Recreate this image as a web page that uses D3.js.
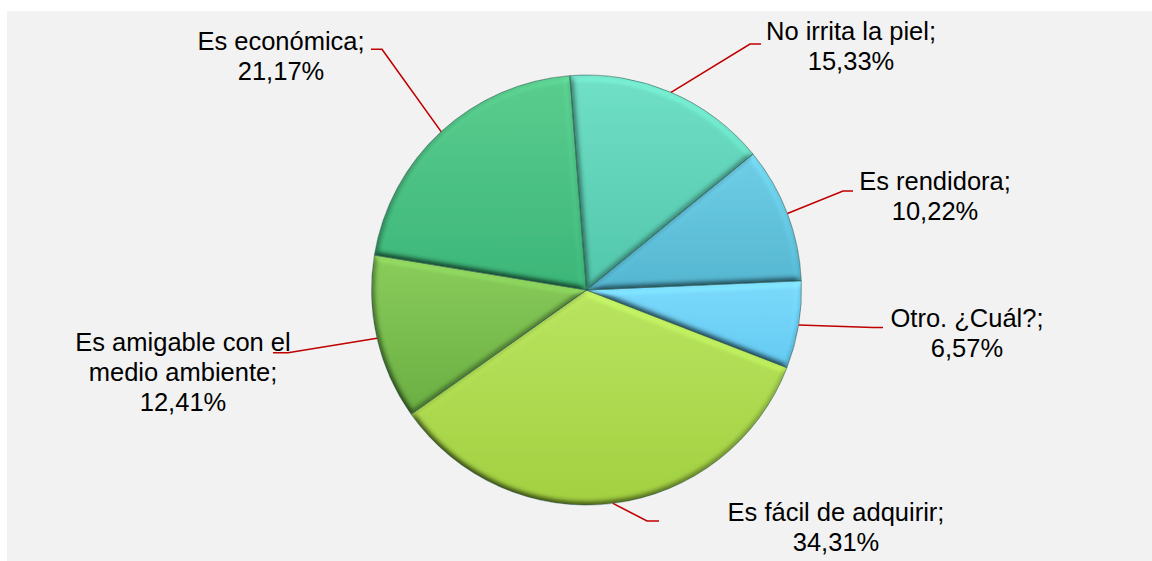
<!DOCTYPE html>
<html>
<head>
<meta charset="utf-8">
<script src="https://cdn.jsdelivr.net/npm/d3@7/dist/d3.min.js"></script>
<style>
  html, body { margin: 0; padding: 0; background: #ffffff; }
  svg { display: block; }
  text { font-family: "Liberation Sans", Arial, sans-serif; fill: #000; }
</style>
</head>
<body>
<svg id="chart" width="1152" height="561"></svg>
<script>
// Survey answers (clockwise from the top) and their shares in percent
const categories = [
  "No irrita la piel",
  "Es rendidora",
  "Otro. ¿Cuál?",
  "Es fácil de adquirir",
  "Es amigable con el medio ambiente",
  "Es económica"
];
const shares = [15.33, 10.22, 6.57, 34.31, 12.41, 21.17];

// Slice fills: light (top) and dark (bottom) stop of each gradient
const topColors    = ["#70e0c6", "#6fcee6", "#7cdafb", "#b8e460", "#8acd5c", "#5acd8e"];
const bottomColors = ["#52c6ab", "#55b6d1", "#64caf2", "#a2d040", "#6aae42", "#3cb679"];

// Label placement: anchor of the text block and the leader line elbow / end
const labelLayout = [
  { x: 851, y: 40,    elbow: [750, 44],    end: [761, 44] },
  { x: 935, y: 189.5, elbow: [843, 191],   end: [853, 191] },
  { x: 967, y: 327,   elbow: [873, 327.5], end: [883, 327.5] },
  { x: 836, y: 521,   elbow: [647, 521],   end: [659, 521] },
  { x: 183, y: 351,   elbow: [288, 352.7], end: [273, 352.7] },
  { x: 281, y: 50,    elbow: [382, 49.3],  end: [371, 49.3] }
];

const W = 1152, H = 561;
const cx = 586.5, cy = 290, radius = 215;
const startDeg = -4.44;
const fontSize = 25.5, lineHeight = 30, wrapWidth = 232;

const svg = d3.select("#chart");

// Panel background
svg.append("rect")
  .attr("x", 7).attr("y", 11)
  .attr("width", W - 7).attr("height", H - 11)
  .attr("fill", "#f2f2f2");

const defs = svg.append("defs");

// Bevel: lit height map from the blurred slice outline, multiplied into the fill
const bevel = defs.append("filter")
  .attr("id", "bevel")
  .attr("x", "-5%").attr("y", "-5%")
  .attr("width", "110%").attr("height", "110%");
bevel.append("feGaussianBlur")
  .attr("in", "SourceAlpha").attr("stdDeviation", 3).attr("result", "blur");
bevel.append("feDiffuseLighting")
  .attr("in", "blur").attr("surfaceScale", 5).attr("diffuseConstant", 1)
  .attr("lighting-color", "#ffffff").attr("result", "light")
  .append("feDistantLight").attr("azimuth", -60).attr("elevation", 58);
bevel.append("feComposite")
  .attr("in", "SourceGraphic").attr("in2", "light")
  .attr("operator", "arithmetic")
  .attr("k1", 1.18).attr("k2", 0).attr("k3", 0).attr("k4", 0)
  .attr("result", "lit");
bevel.append("feComposite")
  .attr("in", "lit").attr("in2", "SourceAlpha").attr("operator", "in");

categories.forEach((c, i) => {
  const g = defs.append("linearGradient")
    .attr("id", "grad" + i)
    .attr("x1", 0).attr("y1", 0).attr("x2", 0).attr("y2", 1);
  g.append("stop").attr("offset", "0%").attr("stop-color", topColors[i]);
  g.append("stop").attr("offset", "100%").attr("stop-color", bottomColors[i]);
});

const rad = d => d * Math.PI / 180;
const pie = d3.pie()
  .sort(null)
  .value(d => d.value)
  .startAngle(rad(startDeg))
  .endAngle(rad(startDeg + 360));

const data = categories.map((name, i) => ({ name, value: shares[i], i }));
const arcs = pie(data);

const arc = d3.arc().innerRadius(0).outerRadius(radius);

const pieG = svg.append("g").attr("transform", `translate(${cx},${cy})`);

pieG.selectAll("path.slice")
  .data(arcs)
  .join("path")
  .attr("class", "slice")
  .attr("d", arc)
  .attr("fill", d => `url(#grad${d.data.i})`)
  .attr("filter", "url(#bevel)");

// Thin dark seams between slices and around the rim
pieG.selectAll("path.seam")
  .data(arcs)
  .join("path")
  .attr("class", "seam")
  .attr("d", arc)
  .attr("fill", "none")
  .attr("stroke", "#1f4f45")
  .attr("stroke-opacity", 0.5)
  .attr("stroke-width", 1);

// Leader lines from the slice rim to the label
const fmt = d3.formatLocale({ decimal: ",", thousands: ".", grouping: [3], currency: ["", ""] }).format(".2f");

const leaderG = svg.append("g");
arcs.forEach(d => {
  const lay = labelLayout[d.data.i];
  const mid = (d.startAngle + d.endAngle) / 2;
  const edge = [cx + radius * Math.sin(mid), cy - radius * Math.cos(mid)];
  leaderG.append("path")
    .attr("d", d3.line()([edge, lay.elbow, lay.end]))
    .attr("fill", "none")
    .attr("stroke", "#c00000")
    .attr("stroke-width", 1.6);
});

// Labels: category name (word-wrapped) then the percentage
const labelG = svg.append("g")
  .attr("font-size", fontSize)
  .attr("text-anchor", "middle");

arcs.forEach(d => {
  const lay = labelLayout[d.data.i];
  const t = labelG.append("text").attr("x", lay.x).attr("y", lay.y);
  const words = (d.data.name + ";").split(" ");
  const lines = [];
  let cur = [];
  const probe = labelG.append("text").attr("visibility", "hidden");
  words.forEach(w => {
    const trial = cur.concat(w).join(" ");
    probe.text(trial);
    if (cur.length && probe.node().getComputedTextLength() > wrapWidth) {
      lines.push(cur.join(" "));
      cur = [w];
    } else {
      cur.push(w);
    }
  });
  lines.push(cur.join(" "));
  probe.remove();
  lines.push(fmt(d.data.value) + "%");
  lines.forEach((ln, k) => {
    t.append("tspan")
      .attr("x", lay.x)
      .attr("y", lay.y + k * lineHeight)
      .text(ln);
  });
});
</script>
</body>
</html>
